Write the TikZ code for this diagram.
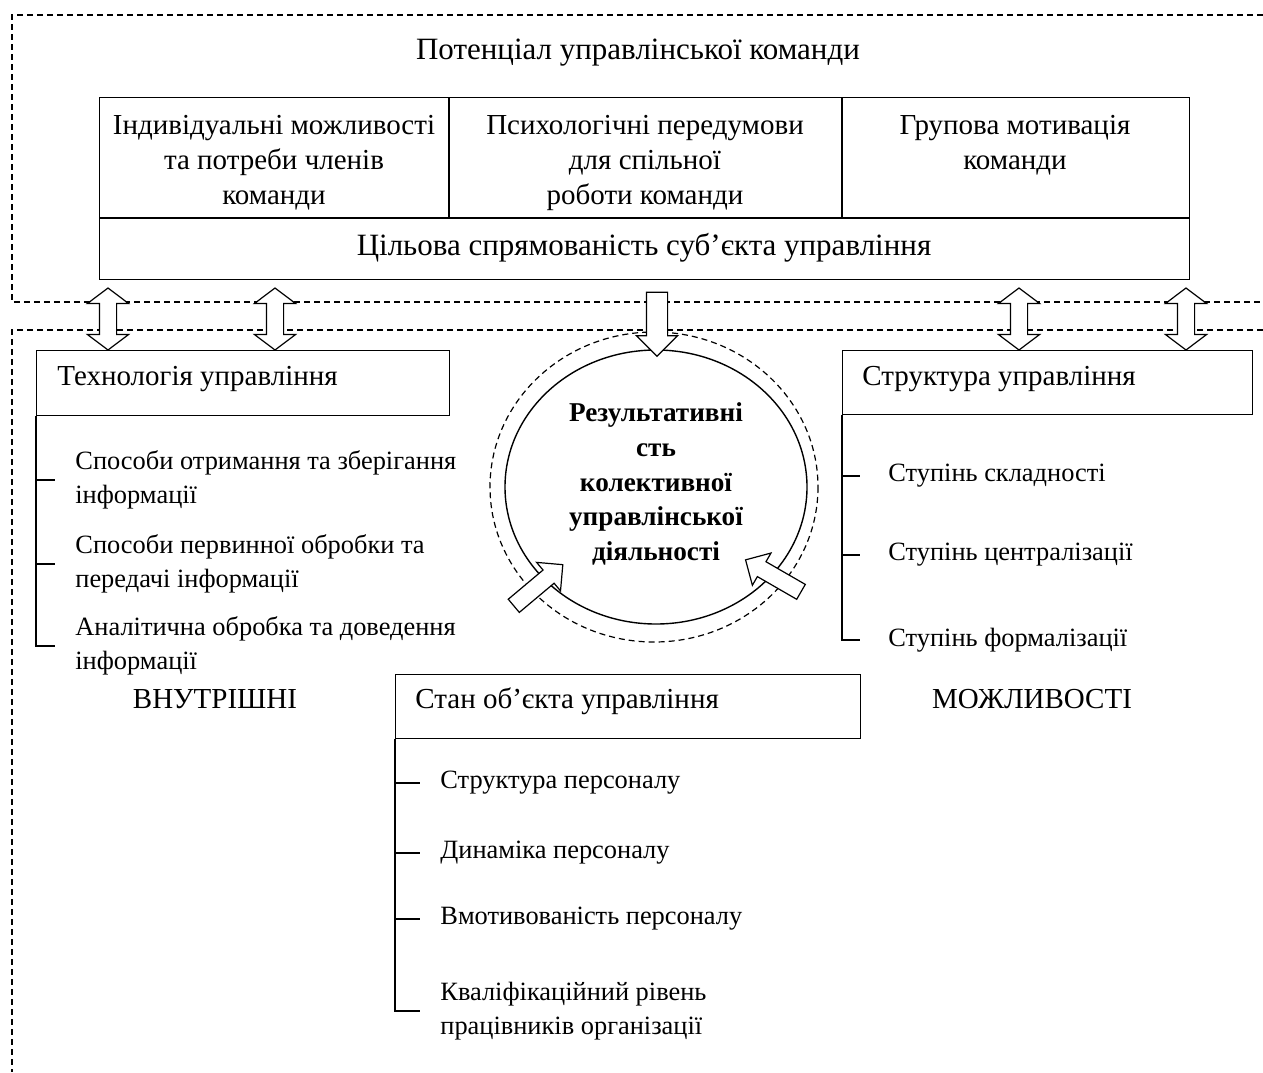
\documentclass[tikz,border=0pt]{standalone}
\usepackage{fontspec}
\setmainfont{Liberation Serif}
\usetikzlibrary{shapes.arrows,positioning}
\tikzset{>=latex}
\tikzstyle{frame}=[dash pattern=on 3pt off 2pt,line width=0.6pt]
\tikzstyle{box}=[draw,line width=0.7pt,inner sep=0,anchor=north west]
\tikzstyle{txt}=[inner sep=0,font=\fontsize{14.5}{17.5}\selectfont]
\tikzstyle{item}=[inner sep=0,font=\fontsize{13.2}{17}\selectfont,anchor=west,align=left]
\tikzstyle{twoway}=[draw,fill=white,line width=0.6pt,double arrow,rotate=90,inner sep=4pt,
  minimum height=31pt,double arrow head extend=6pt,double arrow tip angle=106]
\tikzstyle{oneway}=[draw,fill=white,line width=0.6pt,single arrow,inner sep=4pt,
  minimum height=32pt,single arrow head extend=5pt,single arrow tip angle=90]
\begin{document}
\begin{tikzpicture}[x=0.5pt,y=-0.5pt]
  \useasboundingbox (0,0) rectangle (1263,1072);
  % dashed areas
  \draw[frame] (1263,15) -- (12,15) -- (12,302) -- (1263,302);
  \draw[frame] (1263,330) -- (12,330) -- (12,1072);
  \node[txt,font=\fontsize{15.5}{17.5}\selectfont] (potential) at (638,53) {Потенціал управлінської команди};
  % potential block
  \node[box,minimum width=545pt,minimum height=91pt] (team) at (99,97) {};
  \coordinate (split) at (99,218);
  \draw[line width=0.7pt] (split) -- (split -| team.east);
  \draw[line width=0.7pt] (449,97) -- (449,218);
  \draw[line width=0.7pt] (842,97) -- (842,218);
  \node[txt,align=center] (indiv) at (274,163) {Індивідуальні можливості\\та потреби членів\\команди};
  \node[txt,align=center] (psych) at (645,163) {Психологічні передумови\\для спільної\\роботи команди};
  \node[txt,align=center] (motiv) at (1015,145) {Групова мотивація\\команди};
  \node[txt,font=\fontsize{15.5}{17.5}\selectfont] (goal) at (644,248) {Цільова спрямованість суб’єкта управління};
  % result
  \draw[frame] (654,487) ellipse [x radius=164,y radius=155];
  \draw[line width=0.7pt] (656,487) ellipse [x radius=151,y radius=137];
  \node[txt,align=center,font=\fontsize{13.6}{17.3}\selectfont\bfseries] (result) at (656,484)
    {Результативні\\сть\\колективної\\управлінської\\діяльності};
  \node[oneway,rotate=-90,inner sep=5pt] (down) at (657,319) {};
  \node[oneway,rotate=40] (inleft) at (535,588) {};
  \node[oneway,rotate=150] (inright) at (777,578) {};
  \foreach \x/\n in {108/a,275/b,1019/c,1186/d}
    \node[twoway] (link\n) at (\x,319) {};
  % technology
  \node[box,minimum width=206.5pt,minimum height=32.5pt] (tech) at (36,350) {};
  \node[txt,anchor=west] (techname) at (57,379) {Технологія управління};
  \node[item] (techA) at (75,480) {Способи отримання та зберігання\\інформації};
  \node[item] (techB) at (75,564) {Способи первинної обробки та\\передачі інформації};
  \node[item] (techC) at (75,646) {Аналітична обробка та доведення\\інформації};
  \draw[line width=0.7pt] (tech.south west) |- ([xshift=-10pt]techC.west);
  \foreach \n in {techA,techB}
    \draw[line width=0.7pt] (tech.south west |- \n.west) -- ([xshift=-10pt]\n.west);
  % structure
  \node[box,minimum width=205pt,minimum height=32pt] (struct) at (842,350) {};
  \node[txt,anchor=west] (structname) at (862,379) {Структура управління};
  \node[item] (structA) at (888,476) {Ступінь складності};
  \node[item] (structB) at (888,555) {Ступінь централізації};
  \node[item] (structC) at (888,640) {Ступінь формалізації};
  \draw[line width=0.7pt] (struct.south west) |- ([xshift=-14pt]structC.west);
  \foreach \n in {structA,structB}
    \draw[line width=0.7pt] (struct.south west |- \n.west) -- ([xshift=-14pt]\n.west);
  % state of object
  \node[box,minimum width=232.5pt,minimum height=32pt] (state) at (395,674) {};
  \node[txt,anchor=west] (statename) at (415,701) {Стан об’єкта управління};
  \node[item] (stateA) at (440,783) {Структура персоналу};
  \node[item] (stateB) at (440,853) {Динаміка персоналу};
  \node[item] (stateC) at (440,919) {Вмотивованість персоналу};
  \node[item] (stateD) at (440,1011) {Кваліфікаційний рівень\\працівників організації};
  \draw[line width=0.7pt] (state.south west) |- ([xshift=-10pt]stateD.west);
  \foreach \n in {stateA,stateB,stateC}
    \draw[line width=0.7pt] (state.south west |- \n.west) -- ([xshift=-10pt]\n.west);
  \node[txt] (inner) at (215,699) {ВНУТРІШНІ};
  \node[txt] (options) at (1032,699) {МОЖЛИВОСТІ};
\end{tikzpicture}
\end{document}
